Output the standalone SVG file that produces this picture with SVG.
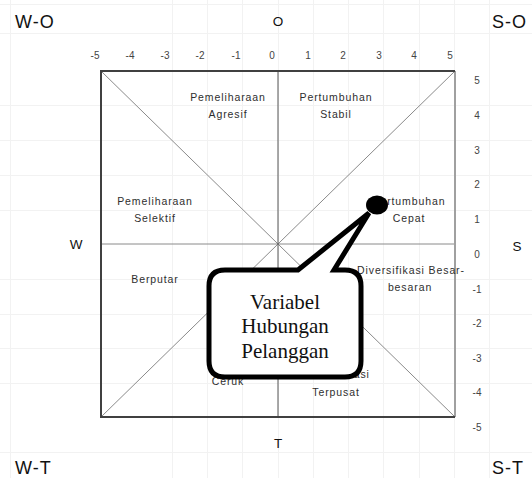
<svg xmlns="http://www.w3.org/2000/svg" width="532" height="478" viewBox="0 0 532 478">
<style>
.grid{stroke:#f2f2f2;stroke-width:1}
.q{font-family:"Liberation Sans",Arial,sans-serif;font-size:10.5px;letter-spacing:0.9px;fill:#2e2e2e;text-anchor:middle}
.n{font-family:"Liberation Sans",Arial,sans-serif;font-size:10px;fill:#444;text-anchor:middle}
.c{font-family:"Liberation Sans",Arial,sans-serif;font-size:18px;letter-spacing:1px;fill:#111}
.a{font-family:"Liberation Sans",Arial,sans-serif;font-size:13.5px;fill:#111;text-anchor:middle}
.thin{stroke:#8a8a8a;stroke-width:1;fill:none}
.callt{font-family:"Liberation Serif","Times New Roman",serif;font-size:21px;fill:#111;text-anchor:middle}
</style>
<rect width="532" height="478" fill="#fff"/>
<g id="grid">
<path class="grid" d="M10.5,0V478M172.5,0V478M207.5,0V478M242.5,0V478M278.5,0V478M313.5,0V478M348.5,0V478M383.5,0V478M419.5,0V478M454.5,0V478M489.5,0V478M0,4.5H532M0,33.5H532M0,105.5H532M0,140.5H532M0,175.5H532M0,210.5H532M0,279.5H532M0,314.5H532M0,348.5H532M0,383.5H532M0,452.5H532"/>
</g>
<g id="frame">
<line x1="101" y1="71" x2="455" y2="417" class="thin"/>
<line x1="455" y1="71" x2="101" y2="417" class="thin"/>
<line x1="101" y1="244" x2="455" y2="244" class="thin"/>
<line x1="278" y1="71" x2="278" y2="417" stroke="#555" stroke-width="1"/>
<line x1="455" y1="71" x2="455" y2="417" stroke="#a0a0a0" stroke-width="2"/>
<path d="M455,71H101V417H455" fill="none" stroke="#404040" stroke-width="2"/>
</g>
<g id="axis-labels">
<text class="c" x="15" y="28">W-O</text>
<text class="c" x="492" y="28">S-O</text>
<text class="c" x="15" y="474">W-T</text>
<text class="c" x="492" y="474">S-T</text>
<text class="a" x="278" y="26">O</text>
<text class="a" x="278" y="448">T</text>
<text class="a" x="76" y="249">W</text>
<text class="a" x="517" y="251">S</text>
</g>
<g id="scale-top">
<text class="n" x="95" y="59">-5</text>
<text class="n" x="130" y="59">-4</text>
<text class="n" x="165" y="59">-3</text>
<text class="n" x="200" y="59">-2</text>
<text class="n" x="236" y="59">-1</text>
<text class="n" x="272" y="59">0</text>
<text class="n" x="308" y="59">1</text>
<text class="n" x="343" y="59">2</text>
<text class="n" x="379" y="59">3</text>
<text class="n" x="414" y="59">4</text>
<text class="n" x="450" y="59">5</text>
</g>
<g id="scale-right">
<text class="n" x="477" y="84">5</text>
<text class="n" x="477" y="119">4</text>
<text class="n" x="477" y="154">3</text>
<text class="n" x="477" y="188">2</text>
<text class="n" x="477" y="223">1</text>
<text class="n" x="477" y="258">0</text>
<text class="n" x="477" y="293">-1</text>
<text class="n" x="477" y="327">-2</text>
<text class="n" x="477" y="362">-3</text>
<text class="n" x="477" y="396">-4</text>
<text class="n" x="477" y="431">-5</text>
</g>
<g id="q-pemeliharaan-agresif"><text class="q" x="228" y="101">Pemeliharaan</text><text class="q" x="228" y="118">Agresif</text></g>
<g id="q-pertumbuhan-stabil"><text class="q" x="336" y="101">Pertumbuhan</text><text class="q" x="336" y="118">Stabil</text></g>
<g id="q-pemeliharaan-selektif"><text class="q" x="155" y="205">Pemeliharaan</text><text class="q" x="155" y="222">Selektif</text></g>
<g id="q-pertumbuhan-cepat"><text class="q" x="409" y="205">Pertumbuhan</text><text class="q" x="409" y="222">Cepat</text></g>
<g id="q-berputar"><text class="q" x="155" y="283">Berputar</text></g>
<g id="q-diversifikasi-besar"><text class="q" x="411" y="274">Diversifikasi Besar-</text><text class="q" x="410" y="291">besaran</text></g>
<g id="q-ceruk"><text class="q" x="228" y="385">Ceruk</text></g>
<g id="q-diversifikasi-terpusat"><text class="q" x="336" y="378">Diversifikasi</text><text class="q" x="336" y="396">Terpusat</text></g>
<g id="connectors">
<path d="M225,270 L298,270 L369,213 L334,270 L345,270 Q361,270 361,286 L361,361 Q361,377 345,377 L225,377 Q209,377 209,361 L209,286 Q209,270 225,270 Z" fill="#fff" stroke="#000" stroke-width="5" stroke-linejoin="miter"/>
</g>
<g id="callout">
<ellipse cx="377" cy="205" rx="11" ry="9.5" fill="#000"/>
<text class="callt" x="285" y="309">Variabel</text>
<text class="callt" x="285" y="333">Hubungan</text>
<text class="callt" x="285" y="358">Pelanggan</text>
</g>
</svg>
